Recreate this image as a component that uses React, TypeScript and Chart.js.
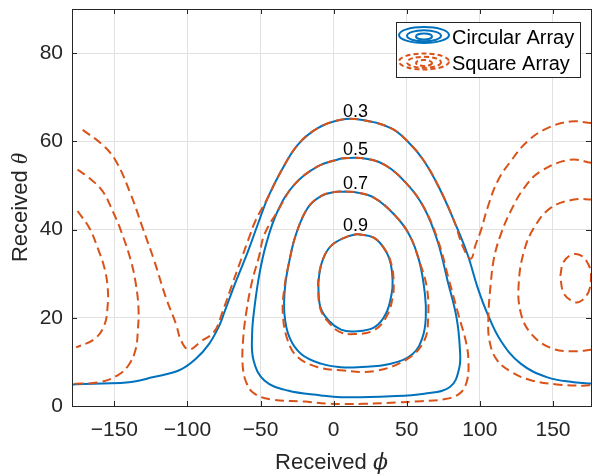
import React, { useEffect, useRef } from "react";
import { Chart, registerables } from "chart.js";

Chart.register(...registerables);

type P = [number, number];

const phiTicks = [-150, -100, -50, 0, 50, 100, 150];
const thetaTicks = [0, 20, 40, 60, 80];
const levelLabels = ["0.3", "0.5", "0.7", "0.9"];
const seriesNames = ["Circular Array", "Square Array"];
const labelPhi = 15;

// Circular array contours (levels 0.3, 0.5, 0.7, 0.9)
const circular03: P[] = [
  [-179, 4.9], [-158, 5.1], [-140, 5.4], [-124, 6.5], [-105.7, 8.1], [-94.3, 10.7], [-85.2, 14.1],
  [-78.3, 18.2], [-74.5, 21.5], [-66.8, 28.3], [-58.7, 35], [-51.9, 41.2], [-45.1, 47.2], [-36, 53.2],
  [-24.6, 59.2], [-10.9, 63], [5, 64.9], [18.6, 64.9], [39.1, 63], [50.5, 60], [61.9, 55.5], [73.3, 48.7],
  [82.4, 41.9], [91.5, 34.4], [98.4, 26.9], [105.2, 20.9], [114.3, 14.8], [127.9, 9.6], [146.2, 6.5],
  [164.3, 5.4], [177, 5.1],
];
const circular05: P[] = [
  [5, 56.1], [18.6, 56.2], [34.6, 54.7], [50.5, 50.2], [61.9, 44.9], [71, 37.4], [77.9, 28.4], [84, 20.1],
  [86.3, 13], [85.8, 8.5], [79.5, 4.3], [61.9, 2.8], [39.1, 2.2], [5, 2.0], [-8.7, 2.4], [-31.4, 3.5],
  [-47.4, 5.8], [-54.8, 10.3], [-55.8, 16.3], [-54.2, 22.3], [-50.8, 29.9], [-46.2, 36.7], [-38.3, 44.2],
  [-26.9, 50.2], [-10.9, 54.3], [5, 56.1],
];
const circular07: P[] = [
  [8, 48.6], [14, 48.5], [27.7, 47.2], [41.4, 43.4], [51.6, 38.9], [58.5, 32.9], [62.4, 25.4], [63, 20.1],
  [60.8, 15.6], [54, 11.8], [39.1, 9.6], [16.4, 8.8], [5, 8.8], [-8.7, 9.6], [-22.3, 11.8], [-30.3, 15.6],
  [-33.7, 20.9], [-33.3, 26.9], [-30.3, 32.9], [-25.8, 38.9], [-17.8, 44.9], [-8.7, 47.6], [0.4, 48.5],
  [8, 48.6],
];
const circular09: P[] = [
  [16, 39], [27.7, 38.1], [35.7, 35.1], [39.1, 32.1], [40.3, 28.4], [39.6, 25.4], [35.7, 20.9], [27.7, 17.8],
  [14, 16.9], [5, 17.3], [-3, 19.2], [-8.7, 22], [-10.4, 26.1], [-10, 29.5], [-7.3, 33.3], [-1.8, 36.3],
  [8.4, 38.3], [16, 39],
];

// Square array contours
const square03: P[] = [
  [-171.7, 62.6], [-158.1, 59.2], [-148.9, 55.5], [-138.7, 47.9], [-130.7, 40.4], [-122.7, 32.9],
  [-114.8, 24.6], [-107.9, 18.6], [-104.2, 14.7], [-99, 12.8], [-90.6, 14.7], [-81.6, 16.9], [-76, 21.4],
  [-69.5, 27.5], [-63, 33.5], [-57.5, 38.5], [-53.5, 42], [-45.1, 47.2], [-36, 53.2], [-24.6, 59.2],
  [-10.9, 63], [5, 64.9], [18.6, 64.9], [39.1, 63], [50.5, 60], [61.9, 55.5], [73.3, 48.7], [82.4, 41.9],
  [88.5, 36], [93.8, 33.4], [97, 36.5], [100.6, 39.7], [105.2, 44.9], [112, 50.9], [121.1, 55.5],
  [132.5, 60], [146.2, 63], [162.1, 64.5], [177, 64.1],
];
const square05Center: P[] = [
  [5, 56.1], [18.6, 56.2], [34.6, 54.7], [50.5, 50.2], [61.9, 44.9], [71.5, 37.4], [79, 28.4], [85.5, 20.5],
  [90.5, 14.5], [92.2, 10], [91, 5.5], [86, 2.8], [75.1, 1.5], [60, 1.1], [43.2, 0.8], [20.5, 0.5],
  [-2.3, 0.5], [-20.1, 1.0], [-42.8, 1.5], [-54.2, 2.8], [-59.5, 5.1], [-62.2, 9], [-62, 14.8],
  [-59.9, 21], [-56, 28], [-51, 34], [-47.4, 38.9], [-38.3, 44.2], [-26.9, 50.2], [-10.9, 54.3], [5, 56.1],
];
const square05Left: P[] = [
  [-175.2, 53.6], [-167.2, 51.7], [-158.1, 48.7], [-151.2, 44.2], [-145.5, 39.7], [-138.7, 32.9],
  [-135.3, 27.6], [-133.5, 22], [-134, 17], [-135.5, 12.8], [-140.2, 9.3], [-147.5, 7], [-160.3, 5.4],
  [-178.6, 5.0],
];
const square05Right: P[] = [
  [177, 55.1], [161.6, 55.8], [141.6, 53.2], [130.2, 49.4], [121.1, 44.2], [114.3, 38.9], [109.7, 33.6],
  [107.4, 27.6], [105.8, 20], [106.6, 14.7], [111.5, 10.5], [120.6, 7.9], [134.3, 5.9], [152.5, 4.9],
  [170.8, 4.6], [177, 4.8],
];
const square07Center: P[] = [
  [8, 48.6], [14, 48.5], [27.7, 47.2], [41.4, 43.4], [51.6, 38.9], [58.5, 32.9], [63.7, 26.9], [64.6, 20.1],
  [61.9, 14.8], [50.5, 10.7], [27.7, 7.9], [5, 8.1], [-10.9, 8.8], [-24.6, 11.1], [-31.4, 14.8],
  [-34.8, 20.9], [-33.7, 26.9], [-30.3, 32.9], [-25.8, 38.9], [-17.8, 44.9], [-8.7, 47.6], [0.4, 48.5],
  [8, 48.6],
];
const square07Left: P[] = [
  [-175.2, 44.2], [-167.2, 40.4], [-161.5, 35.9], [-156.9, 31.4], [-154.6, 26.9], [-154.6, 22.8],
  [-157, 18.2], [-164, 15.1], [-176.2, 13.3],
];
const square07Right: P[] = [
  [177, 46.8], [164.3, 46.8], [148.4, 44.9], [137, 40.4], [130.2, 35.1], [126.6, 28], [127.7, 21.5],
  [134.5, 16.6], [148.2, 13.2], [164.3, 12.4], [177, 12.8],
];
const square09Center: P[] = [
  [16, 39], [27.7, 38.1], [35.7, 35.1], [39.5, 32.1], [41, 28.4], [40.5, 25], [36.5, 20.5], [27.7, 17.2],
  [14, 16.3], [4, 16.8], [-3, 18.8], [-8.9, 21.8], [-10.6, 26.1], [-10.2, 29.5], [-7.3, 33.3],
  [-1.8, 36.3], [8.4, 38.3], [16, 39],
];
const square09Right: P[] = [
  [155, 29.5], [157, 32.5], [162, 34.2], [168, 34.3], [173, 32.8], [176, 30], [174.5, 26], [168, 23.6],
  [162, 24], [157, 25.8], [155, 29.5],
];

const circularContours = [circular03, circular05, circular07, circular09];
const squareContours = [
  square03, square05Center, square05Left, square05Right, square07Center, square07Left, square07Right,
  square09Center, square09Right,
];

const BLUE = "#0072BD";
const ORANGE = "#D95319";
const AXIS = "#262626";
const FONT = "'Liberation Sans', Arial, sans-serif";

const toXY = (pts: P[]) => pts.map(([x, y]) => ({ x, y }));

const framePlugin = {
  id: "frame",
  afterDatasetsDraw(chart: any) {
    const { ctx, chartArea: a, scales } = chart;
    const xs = scales.x;
    const ys = scales.y;
    ctx.save();
    // contour labels
    ctx.fillStyle = "#000000";
    ctx.font = `18px ${FONT}`;
    ctx.textAlign = "center";
    ctx.textBaseline = "alphabetic";
    circularContours.forEach((c, i) => {
      const top = Math.max(...c.map((p) => p[1]));
      ctx.fillText(levelLabels[i], xs.getPixelForValue(labelPhi), ys.getPixelForValue(top) - 3);
    });
    // box
    ctx.strokeStyle = AXIS;
    ctx.lineWidth = 1;
    ctx.strokeRect(Math.round(a.left) + 0.5, Math.round(a.top) + 0.5, Math.round(a.right - a.left), Math.round(a.bottom - a.top));
    ctx.beginPath();
    const tl = 5;
    phiTicks.forEach((v) => {
      const px = Math.round(xs.getPixelForValue(v)) + 0.5;
      ctx.moveTo(px, a.bottom);
      ctx.lineTo(px, a.bottom - tl);
      ctx.moveTo(px, a.top);
      ctx.lineTo(px, a.top + tl);
    });
    thetaTicks.forEach((v) => {
      const py = Math.round(ys.getPixelForValue(v)) + 0.5;
      ctx.moveTo(a.left, py);
      ctx.lineTo(a.left + tl, py);
      ctx.moveTo(a.right, py);
      ctx.lineTo(a.right - tl, py);
    });
    ctx.stroke();
    ctx.restore();
  },
  afterDraw(chart: any) {
    const { ctx, chartArea: a } = chart;
    ctx.save();
    // axis titles
    ctx.fillStyle = AXIS;
    const drawTitle = (sym: string, symFont: string) => {
      ctx.font = `22px ${FONT}`;
      const w1 = ctx.measureText("Received ").width;
      ctx.font = symFont;
      const w2 = ctx.measureText(sym).width;
      const start = -(w1 + w2) / 2;
      ctx.textAlign = "left";
      ctx.textBaseline = "alphabetic";
      ctx.font = `22px ${FONT}`;
      ctx.fillText("Received ", start, 0);
      ctx.font = symFont;
      ctx.fillText(sym, start + w1, 0);
    };
    ctx.save();
    ctx.translate((a.left + a.right) / 2, 469);
    drawTitle("\u03D5", "italic 22px 'DejaVu Serif', serif");
    ctx.restore();
    ctx.save();
    ctx.translate(27, (a.top + a.bottom) / 2);
    ctx.rotate(-Math.PI / 2);
    drawTitle("\u03B8", "italic 23px 'Liberation Serif', serif");
    ctx.restore();

    // legend
    const lx = 396.5, ly = 22.5, lw = 184, lh = 55;
    ctx.fillStyle = "#ffffff";
    ctx.fillRect(lx, ly, lw, lh);
    ctx.strokeStyle = AXIS;
    ctx.lineWidth = 1;
    ctx.strokeRect(lx, ly, lw, lh);
    const icon = (cy: number, color: string, dashed: boolean) => {
      ctx.strokeStyle = color;
      ctx.lineWidth = 2;
      ctx.setLineDash(dashed ? [5, 3] : []);
      const cx = 424;
      const rings = [
        [25, 8, 0],
        [17, 5.5, 0.8],
        [8, 3, 1.5],
      ];
      rings.forEach(([rx, ry, dy]) => {
        ctx.beginPath();
        ctx.ellipse(cx, cy + dy, rx, ry, 0, 0, Math.PI * 2);
        ctx.stroke();
      });
      ctx.setLineDash([]);
    };
    icon(35, BLUE, false);
    icon(61.5, ORANGE, true);
    ctx.fillStyle = "#000000";
    ctx.font = `20px ${FONT}`;
    ctx.textAlign = "left";
    ctx.textBaseline = "alphabetic";
    ctx.fillText(seriesNames[0], 452, 44);
    ctx.fillText(seriesNames[1], 452, 70);
    ctx.restore();
  },
};

export default function App() {
  const ref = useRef<HTMLCanvasElement | null>(null);
  useEffect(() => {
    if (!ref.current) return;
    const datasets: any[] = [];
    squareContours.forEach((c) =>
      datasets.push({
        data: toXY(c),
        showLine: true,
        borderColor: ORANGE,
        borderWidth: 2,
        borderDash: [9, 5],
        pointRadius: 0,
        tension: 0.4,
        fill: false,
        order: 0,
      })
    );
    circularContours.forEach((c) =>
      datasets.push({
        data: toXY(c),
        showLine: true,
        borderColor: BLUE,
        borderWidth: 2,
        pointRadius: 0,
        tension: 0.4,
        fill: false,
        order: 1,
      })
    );
    const noPad = (s: any) => {
      s.paddingTop = 0;
      s.paddingBottom = 0;
      s.paddingLeft = 0;
      s.paddingRight = 0;
    };
    const chart = new Chart(ref.current, {
      type: "scatter",
      data: { datasets },
      options: {
        animation: false,
        responsive: false,
        devicePixelRatio: 1,
        layout: { padding: { top: 9, right: 1, left: 0, bottom: 0 } },
        plugins: { legend: { display: false }, tooltip: { enabled: false } },
        events: [],
        scales: {
          x: {
            type: "linear",
            min: -179,
            max: 176,
            afterBuildTicks: (s: any) => {
              s.ticks = phiTicks.map((v) => ({ value: v }));
            },
            afterFit: (s: any) => {
              s.height = 68;
              noPad(s);
            },
            grid: { color: "#e2e2e2", drawTicks: false },
            border: { display: false },
            ticks: {
              padding: 12,
              color: AXIS,
              font: { family: FONT, size: 21 },
              callback: (v: any) => (v < 0 ? "\u2212" + Math.abs(v) : String(v)),
            },
          },
          y: {
            type: "linear",
            min: 0,
            max: 90,
            afterBuildTicks: (s: any) => {
              s.ticks = thetaTicks.map((v) => ({ value: v }));
            },
            afterFit: (s: any) => {
              s.width = 72;
              noPad(s);
            },
            grid: { color: "#e2e2e2", drawTicks: false },
            border: { display: false },
            ticks: {
              padding: 9,
              color: AXIS,
              font: { family: FONT, size: 21 },
            },
          },
        },
      },
      plugins: [framePlugin],
    });
    return () => chart.destroy();
  }, []);
  return (
    <div style={{ position: "absolute", left: 0, top: 0, width: 592, height: 474, background: "#fff" }}>
      <canvas ref={ref} width={592} height={474} style={{ display: "block" }} />
    </div>
  );
}
